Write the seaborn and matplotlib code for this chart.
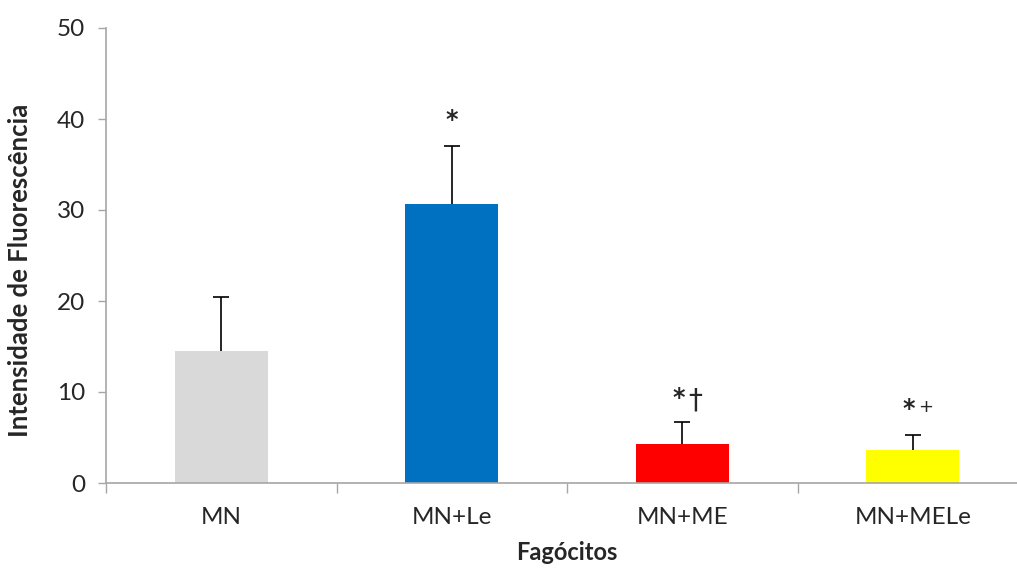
import matplotlib
matplotlib.use("Agg")
import matplotlib.pyplot as plt
import seaborn as sns
import pandas as pd
import numpy as np
from matplotlib.ticker import FixedLocator

categories = ["MN", "MN+Le", "MN+ME", "MN+MELe"]
means = [14.5, 30.65, 4.3, 3.63]
upper_err = [5.9, 6.4, 2.4, 1.65]
colors = ["#d9d9d9", "#0070c0", "#ff0000", "#ffff00"]
marks = ["", "*", "*†", "*+"]
mark_y = [None, 39.9, 9.3, 8.1]

sns.set_theme(style="white")
plt.rcParams['font.family'] = ['Lato', 'DejaVu Sans']

fig = plt.figure(figsize=(10.17, 5.68), dpi=100)
ax = fig.add_axes([106/1017, 1-483/568, (1028-106)/1017, (483-28)/568])

df = pd.DataFrame({"cat": categories, "val": means})
sns.barplot(data=df, x="cat", y="val", hue="cat", palette=colors,
            width=0.405, legend=False, ax=ax, saturation=1, edgecolor="none")

xs = np.arange(len(categories))
tops = np.array(means) + np.array(upper_err)
ax.vlines(xs, means, tops, color="black", linewidth=1.2, zorder=3)
ax.plot(xs, tops, linestyle="none", marker="_", markersize=12,
        markeredgewidth=1.2, color="black", zorder=3)

for i, (m, y) in enumerate(zip(marks, mark_y)):
    if not m:
        continue
    if len(m) == 1:
        ax.text(i, y, m, ha="center", va="center", fontsize=17, fontweight="bold",
                family=['DejaVu Sans'])
    else:
        ax.text(i + 0.01, y, m[0], ha="right", va="center", fontsize=17,
                fontweight="bold", family=['DejaVu Sans'])
        small = m[1] == "+"
        ax.text(i + 0.025, y + (0.2 if small else -0.2), m[1], ha="left", va="center",
                fontsize=13 if small else 20, family=['DejaVu Sans'])

ax.set_xlim(-0.5, 3.5)
ax.set_ylim(0, 50)
ax.set_yticks([0, 10, 20, 30, 40, 50])
ax.tick_params(axis="y", labelsize=17.5, length=6, width=1, color="#a6a6a6",
               direction="out", left=True, pad=9)
ax.tick_params(axis="x", which="major", labelsize=17.5, length=0, pad=17)
ax.xaxis.set_minor_locator(FixedLocator([-0.5, 0.5, 1.5, 2.5, 3.5]))
ax.tick_params(axis="x", which="minor", length=7, width=1, color="#a6a6a6",
               direction="out", bottom=True)

for s in ["top", "right"]:
    ax.spines[s].set_visible(False)
for s in ["left", "bottom"]:
    ax.spines[s].set_color("#a6a6a6")
    ax.spines[s].set_linewidth(1.2)

ax.set_xlabel("Fagócitos", fontsize=17, fontweight="bold", labelpad=10)
ax.set_ylabel("Intensidade de Fluorescência", fontsize=18.5, fontweight="bold")
ax.yaxis.set_label_coords(-0.08, 0.468)

fig.savefig("out.png", dpi=100)
